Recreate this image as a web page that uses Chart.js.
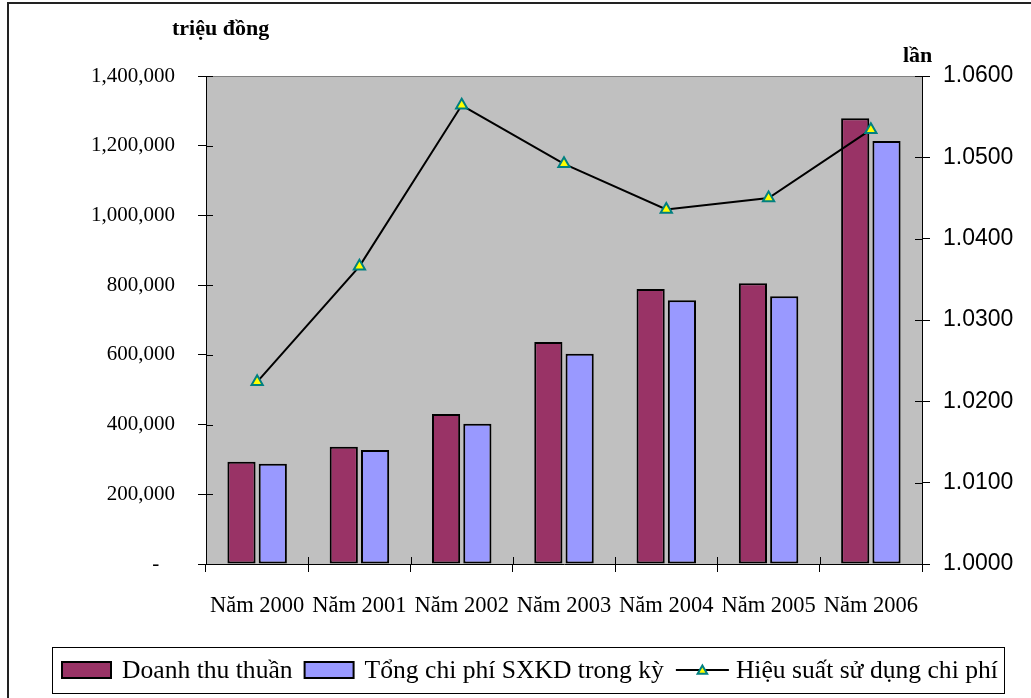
<!DOCTYPE html>
<html lang="vi">
<head>
<meta charset="utf-8">
<title>Doanh thu thuần và chi phí SXKD 2000–2006</title>
<script src="https://cdn.jsdelivr.net/npm/chart.js@4/dist/chart.umd.min.js"></script>
<style>
  html, body { margin: 0; padding: 0; background: #ffffff; }
  #wrap { width: 1031px; height: 698px; }
</style>
</head>
<body>
<div id="wrap"><canvas id="chart" width="1031" height="698"></canvas></div>
<script>
// Số liệu
const categories = ['Năm 2000', 'Năm 2001', 'Năm 2002', 'Năm 2003', 'Năm 2004', 'Năm 2005', 'Năm 2006'];
const doanhThu   = [293500, 336500, 430300, 637000, 789000, 805200, 1278600];   // triệu đồng
const tongChiPhi = [287800, 327000, 402500, 603300, 756500, 768000, 1213500];   // triệu đồng
const hieuSuat   = [1.0224, 1.0366, 1.0564, 1.0492, 1.0436, 1.0450, 1.0534];    // lần

const seriesNames = ['Doanh thu thuần', 'Tổng chi phí SXKD trong kỳ', 'Hiệu suất sử dụng chi phí'];
const leftUnit = 'triệu đồng';
const rightUnit = 'lần';

const SERIF = '"Liberation Serif", "Times New Roman", serif';
const SANS = '"Liberation Sans", Arial, sans-serif';

Chart.defaults.font.family = SERIF;
Chart.defaults.color = '#000000';

// Nền xám vùng vẽ, khung ngoài, tiêu đề đơn vị, vạch chia trong và chú thích
const frame = {
  id: 'frame',
  beforeDraw(chart) {
    const { ctx, chartArea: a, width, height } = chart;
    ctx.save();
    ctx.fillStyle = '#ffffff';
    ctx.fillRect(0, 0, width, height);
    ctx.fillStyle = '#c0c0c0';
    ctx.fillRect(a.left, a.top, a.right - a.left, a.bottom - a.top);
    ctx.strokeStyle = '#808080';
    ctx.lineWidth = 1;
    ctx.beginPath();
    ctx.moveTo(a.left, Math.round(a.top) + 0.5);
    ctx.lineTo(a.right, Math.round(a.top) + 0.5);
    ctx.stroke();
    // khung ngoài
    ctx.strokeStyle = '#222222';
    ctx.lineWidth = 2;
    ctx.strokeRect(8, 3, width + 10, height + 10);
    // đơn vị trục
    ctx.fillStyle = '#000000';
    ctx.font = 'bold 22px ' + SERIF;
    ctx.textBaseline = 'alphabetic';
    ctx.textAlign = 'left';
    ctx.fillText(leftUnit, 172, 35);
    ctx.fillText(rightUnit, 903, 62);
    ctx.restore();
  },
  afterDraw(chart) {
    const { ctx, chartArea: a } = chart;
    const sx = chart.scales.x, sy = chart.scales.y, sy1 = chart.scales.y1;
    ctx.save();
    ctx.strokeStyle = '#000000';
    ctx.lineWidth = 1;
    ctx.beginPath();
    // phần vạch chia nằm trong vùng vẽ
    sy.ticks.forEach((t, i) => {
      const p = Math.round(sy.getPixelForTick(i)) + 0.5;
      ctx.moveTo(a.left, p); ctx.lineTo(a.left + 7, p);
    });
    sy1.ticks.forEach((t, i) => {
      const p = Math.round(sy1.getPixelForTick(i)) + 0.5;
      ctx.moveTo(a.right - 7, p); ctx.lineTo(a.right, p);
    });
    for (let i = 0; i <= categories.length; i++) {
      const p = Math.round(sx.getPixelForValue(i - 0.5)) + 0.5;
      ctx.moveTo(p, a.bottom - 7); ctx.lineTo(p, a.bottom);
    }
    ctx.stroke();

    // chú thích
    const ds = chart.data.datasets;
    const boxL = 52, boxT = 647, boxR = 1004, boxB = 693;
    ctx.lineWidth = 1;
    ctx.strokeStyle = '#000000';
    ctx.strokeRect(boxL + 0.5, boxT + 0.5, boxR - boxL, boxB - boxT);
    const cy = 670;
    ctx.font = '25.6px ' + SERIF;
    ctx.textBaseline = 'middle';
    ctx.textAlign = 'left';
    let x = 62;
    const order = [1, 2, 0];
    order.forEach((di) => {
      const d = ds[di];
      if (d.type === 'line') {
        ctx.strokeStyle = d.borderColor;
        ctx.lineWidth = 2;
        ctx.beginPath();
        ctx.moveTo(x, cy); ctx.lineTo(x + 53, cy);
        ctx.stroke();
        const r = 5.5, px = x + 26.5, py = cy + 1;
        ctx.fillStyle = d.pointBackgroundColor;
        ctx.strokeStyle = d.pointBorderColor;
        ctx.lineWidth = 2;
        ctx.beginPath();
        ctx.moveTo(px, py - r);
        ctx.lineTo(px + r * 0.866, py + r * 0.5);
        ctx.lineTo(px - r * 0.866, py + r * 0.5);
        ctx.closePath();
        ctx.fill(); ctx.stroke();
        x += 60;
      } else {
        ctx.fillStyle = d.backgroundColor;
        ctx.fillRect(x, cy - 8, 49, 16);
        ctx.strokeStyle = '#000000';
        ctx.lineWidth = 2;
        ctx.strokeRect(x, cy - 8, 49, 16);
        x += 60;
      }
      ctx.fillStyle = '#000000';
      ctx.fillText(d.label, x, cy + 1);
      x += ctx.measureText(d.label).width + 12;
    });
    ctx.restore();
  }
};

new Chart(document.getElementById('chart'), {
  data: {
    labels: categories,
    datasets: [
      {
        type: 'line',
        label: seriesNames[2],
        data: hieuSuat,
        yAxisID: 'y1',
        order: -1,
        borderColor: '#000000',
        borderWidth: 2,
        tension: 0,
        pointStyle: 'triangle',
        pointRadius: 6.5,
        pointHoverRadius: 6.5,
        pointBackgroundColor: '#ffff00',
        pointBorderColor: '#008080',
        pointBorderWidth: 2
      },
      {
        type: 'bar',
        label: seriesNames[0],
        data: doanhThu,
        yAxisID: 'y',
        backgroundColor: '#993366',
        borderColor: '#000000',
        borderWidth: 2,
        borderSkipped: false,
        categoryPercentage: 0.612,
        barPercentage: 0.9
      },
      {
        type: 'bar',
        label: seriesNames[1],
        data: tongChiPhi,
        yAxisID: 'y',
        backgroundColor: '#9999ff',
        borderColor: '#000000',
        borderWidth: 2,
        borderSkipped: false,
        categoryPercentage: 0.612,
        barPercentage: 0.9
      }
    ]
  },
  options: {
    responsive: false,
    animation: false,
    layout: { padding: { left: 0, right: 0, top: 76, bottom: 0 } },
    plugins: {
      legend: { display: false },
      tooltip: { enabled: false }
    },
    scales: {
      x: {
        type: 'category',
        offset: true,
        afterFit(s) { s.height = 134; },
        grid: { offset: true, drawOnChartArea: false, tickLength: 8, color: '#000000', lineWidth: 1 },
        border: { display: true, color: '#000000', width: 1 },
        ticks: { font: { size: 22.5, family: SERIF }, color: '#000000', padding: 21, maxRotation: 0, autoSkip: false }
      },
      y: {
        position: 'left',
        min: 0,
        max: 1400000,
        afterFit(s) { s.width = 206; },
        grid: { drawOnChartArea: false, tickLength: 8, color: '#000000', lineWidth: 1 },
        border: { display: true, color: '#000000', width: 1 },
        ticks: {
          stepSize: 200000,
          padding: 23,
          font: { size: 21, family: SERIF },
          color: '#000000',
          callback: (v) => v === 0 ? '-\u2002 ' : Number(v).toLocaleString('en-US')
        }
      },
      y1: {
        position: 'right',
        min: 1.0,
        max: 1.06,
        afterFit(s) { s.width = 109; },
        grid: { drawOnChartArea: false, tickLength: 8, color: '#000000', lineWidth: 1 },
        border: { display: true, color: '#000000', width: 1 },
        ticks: {
          stepSize: 0.01,
          padding: 13,
          font: { size: 23, family: SANS },
          color: '#000000',
          callback: (v) => Number(v).toFixed(4)
        }
      }
    }
  },
  plugins: [frame]
});
</script>
</body>
</html>
